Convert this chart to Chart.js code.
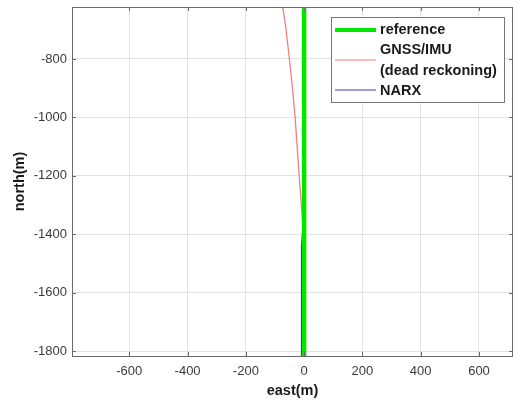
<!DOCTYPE html>
<html>
<head>
    <title>east / north trajectory</title>
    <script src="https://cdn.jsdelivr.net/npm/chart.js@4.4.1/dist/chart.umd.min.js"></script>
    <style>
      body { margin: 0; background: #fff; }
      #wrap { width: 513px; height: 402px; }
    </style>
</head>
<body>
    <div id="wrap"><canvas id="myChart" width="513" height="402"></canvas></div>
    <script>
      // tick labels
      var xTicks = [-600, -400, -200, 0, 200, 400, 600];
      var yTicks = [-1800, -1600, -1400, -1200, -1000, -800];

      // reference trajectory
      var refEast  = [0, 0];
      var refNorth = [-1830, -600];

      // GNSS/IMU dead reckoning (drifts west going north)
      var gnssEast  = [-2, -2, -3, -6, -11, -17, -24, -31, -40, -50, -62, -75];
      var gnssNorth = [-1830, -1500, -1420, -1350, -1280, -1200, -1100, -1000, -900, -805, -700, -610];

      // NARX
      var narxEast  = [-9, -9, -6, -1, 0];
      var narxNorth = [-1830, -1440, -1400, -1340, -600];

      function pts(xs, ys) {
        return xs.map(function (x, i) { return { x: x, y: ys[i] }; });
      }

      var legendLabels = [['reference'], ['GNSS/IMU', '(dead reckoning)'], ['NARX']];

      function noPad(s) {
        s.paddingTop = 0; s.paddingBottom = 0; s.paddingLeft = 0; s.paddingRight = 0;
      }

      // box round the axes with small inward ticks, like matlab
      var boxPlugin = {
        id: 'box',
        afterDatasetsDraw: function (chart) {
          var a = chart.chartArea, c = chart.ctx;
          var sx = chart.scales.x, sy = chart.scales.y;
          c.save();
          c.strokeStyle = '#6a6a6a';
          c.lineWidth = 1;
          c.beginPath();
          xTicks.forEach(function (v) {
            var px = Math.round(sx.getPixelForValue(v)) + 0.5;
            c.moveTo(px, a.bottom); c.lineTo(px, a.bottom - 4);
            c.moveTo(px, a.top); c.lineTo(px, a.top + 4);
          });
          yTicks.forEach(function (v) {
            var py = Math.round(sy.getPixelForValue(v)) + 0.5;
            c.moveTo(a.left, py); c.lineTo(a.left + 4, py);
            c.moveTo(a.right, py); c.lineTo(a.right - 4, py);
          });
          c.stroke();
          c.strokeRect(a.left + 0.5, a.top + 0.5, a.right - a.left - 1, a.bottom - a.top);
          c.restore();
        },
        afterDraw: function (chart) {
          var c = chart.ctx;
          var bx = 331, by = 17, bw = 173, bh = 85;
          c.save();
          c.fillStyle = '#fff';
          c.fillRect(bx, by, bw, bh);
          c.strokeStyle = '#777';
          c.lineWidth = 1;
          c.strokeRect(bx + 0.5, by + 0.5, bw, bh);
          var lineY = [30, 60, 90];
          var textY = [[30], [50, 71], [91]];
          c.font = 'bold 14.5px "Liberation Sans", Arial, sans-serif';
          c.fillStyle = '#1a1a1a';
          c.textBaseline = 'middle';
          chart.data.datasets.forEach(function (ds, i) {
            c.strokeStyle = ds.borderColor;
            c.lineWidth = i === 0 ? 4 : 1.2;
            c.beginPath();
            c.moveTo(335, lineY[i]);
            c.lineTo(376, lineY[i]);
            c.stroke();
            legendLabels[i].forEach(function (t, j) {
              c.fillText(t, 380, textY[i][j]);
            });
          });
          c.restore();
        }
      };

      var tickFont = { family: '"Liberation Sans", Arial, sans-serif', size: 13 };
      var titleFont = { family: '"Liberation Sans", Arial, sans-serif', size: 14.5, weight: 'bold' };

      var ctx = document.getElementById('myChart').getContext('2d');
      var myChart = new Chart(ctx, {
          type: 'scatter',
          data: {
              datasets: [{
                  label: 'reference',
                  data: pts(refEast, refNorth),
                  showLine: true,
                  borderColor: 'rgb(0,230,0)',
                  borderWidth: 4.5,
                  pointRadius: 0,
                  clip: 0
              }, {
                  label: 'GNSS/IMU (dead reckoning)',
                  data: pts(gnssEast, gnssNorth),
                  showLine: true,
                  borderColor: 'rgb(240,128,128)',
                  borderWidth: 1.3,
                  pointRadius: 0,
                  clip: 0
              }, {
                  label: 'NARX',
                  data: pts(narxEast, narxNorth),
                  showLine: true,
                  borderColor: 'rgb(60,60,170)',
                  borderWidth: 1.3,
                  pointRadius: 0,
                  clip: 0
              }]
          },
          options: {
              responsive: false,
              animation: false,
              layout: { padding: { top: 7, right: 0, left: 0, bottom: 0 } },
              plugins: {
                  legend: { display: false },
                  tooltip: { enabled: false }
              },
              scales: {
                  x: {
                      type: 'linear',
                      min: -796.6,
                      max: 716.7,
                      afterBuildTicks: function (s) { s.ticks = xTicks.map(function (v) { return { value: v }; }); },
                      afterFit: function (s) { s.height = 46; noPad(s); },
                      grid: { color: '#e2e2e2', drawTicks: false },
                      border: { display: false },
                      ticks: {
                          autoSkip: false,
                          maxRotation: 0,
                          padding: 8,
                          color: '#3a3a3a',
                          font: tickFont,
                          callback: function (v) { return String(v); }
                      },
                      title: {
                          display: true,
                          text: 'east(m)',
                          color: '#1a1a1a',
                          padding: { top: 0, bottom: 2 },
                          font: titleFont
                      }
                  },
                  y: {
                      type: 'linear',
                      min: -1817,
                      max: -622,
                      afterBuildTicks: function (s) { s.ticks = yTicks.map(function (v) { return { value: v }; }); },
                      afterFit: function (s) { s.width = 72; noPad(s); },
                      grid: { color: '#e2e2e2', drawTicks: false },
                      border: { display: false },
                      ticks: {
                          autoSkip: false,
                          padding: 5,
                          color: '#3a3a3a',
                          font: tickFont,
                          callback: function (v) { return String(v); }
                      },
                      title: {
                          display: true,
                          text: 'north(m)',
                          color: '#1a1a1a',
                          padding: { top: 11, bottom: 0 },
                          font: titleFont
                      }
                  }
              }
          },
          plugins: [boxPlugin]
      });
    </script>
</body>
</html>
